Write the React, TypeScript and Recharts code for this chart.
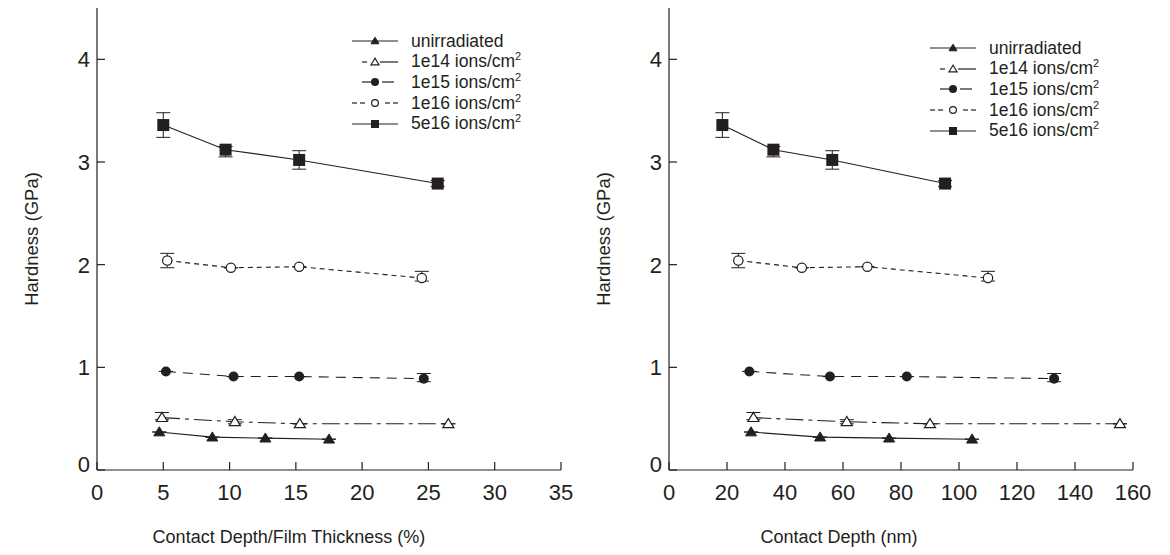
import React from "react";
import { LineChart, Line, XAxis, YAxis, ErrorBar, Legend } from "recharts";

const ink = "#231f20";
const font = "'Liberation Sans', Arial, Helvetica, sans-serif";

// hardness (GPa), same measurements in both panels
const unirrH = [0.37, 0.32, 0.31, 0.3];
const e14H = [0.51, 0.47, 0.45, 0.45];
const e15H = [0.96, 0.91, 0.91, 0.89];
const e16H = [2.04, 1.97, 1.98, 1.87];
const e5x16H = [3.36, 3.12, 3.02, 2.79];

// error bars, [below, above]
const unirrErr = [[0, 0], [0, 0], [0, 0], [0, 0]];
const e14Err = [[0.02, 0.05], [0.02, 0.02], [0, 0], [0, 0]];
const e15Err = [[0, 0], [0, 0], [0, 0], [0.03, 0.05]];
const e16Err = [[0.07, 0.07], [0, 0], [0, 0], [0.03, 0.065]];
const e5x16Err = [[0.12, 0.12], [0.07, 0.03], [0.09, 0.09], [0.03, 0.03]];

// contact depth / film thickness (%)
const unirrPct = [4.7, 8.7, 12.7, 17.5];
const e14Pct = [4.9, 10.4, 15.3, 26.5];
const e15Pct = [5.2, 10.3, 15.25, 24.65];
const e16Pct = [5.3, 10.1, 15.25, 24.5];
const e5x16Pct = [5.0, 9.7, 15.25, 25.7];

// contact depth (nm)
const unirrNm = [28.3, 52.1, 75.9, 104.5];
const e14Nm = [29.1, 61.3, 90, 155.5];
const e15Nm = [27.7, 55.5, 82, 132.8];
const e16Nm = [23.9, 45.8, 68.4, 110];
const e5x16Nm = [18.4, 36, 56.3, 95.2];

const pctTicks = [0, 5, 10, 15, 20, 25, 30, 35];
const nmTicks = [0, 20, 40, 60, 80, 100, 120, 140, 160];
const hTicks = [0, 1, 2, 3, 4];

type Kind = "tri" | "triOpen" | "dot" | "dotOpen" | "square";

const series = [
  { name: "unirradiated", sup: false, kind: "tri" as Kind, dash: undefined, legendSeg: [[0, 46]], h: unirrH, err: unirrErr, pct: unirrPct, nm: unirrNm },
  { name: "1e14 ions/cm", sup: true, kind: "triOpen" as Kind, dash: "18 5 4 5", legendSeg: [[10, 15], [28, 46]], h: e14H, err: e14Err, pct: e14Pct, nm: e14Nm },
  { name: "1e15 ions/cm", sup: true, kind: "dot" as Kind, dash: "10 7", legendSeg: [[10, 20], [30, 42]], h: e15H, err: e15Err, pct: e15Pct, nm: e15Nm },
  { name: "1e16 ions/cm", sup: true, kind: "dotOpen" as Kind, dash: "5 4", legendSeg: [[0, 5], [8, 13], [33, 38], [41, 46]], h: e16H, err: e16Err, pct: e16Pct, nm: e16Nm },
  { name: "5e16 ions/cm", sup: true, kind: "square" as Kind, dash: undefined, legendSeg: [[0, 46]], h: e5x16H, err: e5x16Err, pct: e5x16Pct, nm: e5x16Nm },
];

const Mark = ({ kind, cx, cy, s }: { kind: Kind; cx: number; cy: number; s: number }) => {
  if (cx == null || cy == null) return null;
  if (kind === "tri" || kind === "triOpen") {
    const pts = `${cx},${cy - s * 0.95} ${cx - s},${cy + s * 0.7} ${cx + s},${cy + s * 0.7}`;
    return kind === "tri" ? (
      <polygon points={pts} fill={ink} stroke={ink} strokeWidth={1} />
    ) : (
      <polygon points={pts} fill="#fff" stroke={ink} strokeWidth={1.2} />
    );
  }
  if (kind === "dot") return <circle cx={cx} cy={cy} r={s} fill={ink} />;
  if (kind === "dotOpen") return <circle cx={cx} cy={cy} r={s * 0.85} fill="#fff" stroke={ink} strokeWidth={1.2} />;
  return <rect x={cx - s} y={cy - s} width={s * 2} height={s * 2} fill={ink} />;
};

const BottomTick = (props: any) => {
  const { x, y, payload } = props;
  return (
    <g>
      <line x1={x} x2={x} y1={y} y2={y - 8} stroke={ink} strokeWidth={1.2} />
      <text x={x} y={y + 30} textAnchor="middle" fontSize={22} fontFamily={font} fill={ink}>
        {payload.value}
      </text>
    </g>
  );
};

const TopTick = (props: any) => {
  const { x, y } = props;
  return <line x1={x} x2={x} y1={y} y2={y + 8} stroke={ink} strokeWidth={1.2} />;
};

const LeftTick = (props: any) => {
  const { x, y, payload } = props;
  const shift = payload.value === 0 ? -6 : 0;
  return (
    <g>
      <line x1={x} x2={x + 8} y1={y} y2={y} stroke={ink} strokeWidth={1.2} />
      <text x={x - 7} y={y + 8 + shift} textAnchor="end" fontSize={22} fontFamily={font} fill={ink}>
        {payload.value}
      </text>
    </g>
  );
};

const RightTick = (props: any) => {
  const { x, y } = props;
  return <line x1={x} x2={x - 8} y1={y} y2={y} stroke={ink} strokeWidth={1.2} />;
};

const LegendBox = () => (
  <div style={{ fontFamily: font, fontSize: 17.5, color: ink }}>
    {series.map((s) => (
      <div key={s.name} style={{ display: "flex", alignItems: "center", height: 20.6 }}>
        <svg width={46} height={14} style={{ overflow: "visible" }}>
          {s.legendSeg.map(([a, b], i) => (
            <line key={i} x1={a} x2={b} y1={7} y2={7} stroke={ink} strokeWidth={1.2} />
          ))}
          <Mark kind={s.kind} cx={23} cy={7} s={4} />
        </svg>
        <span style={{ marginLeft: 13, whiteSpace: "nowrap" }}>
          {s.name}
          {s.sup && <sup style={{ fontSize: 11, lineHeight: 0 }}>2</sup>}
        </span>
      </div>
    ))}
  </div>
);

interface PanelProps {
  left: number;
  xKey: "pct" | "nm";
  xTicks: number[];
  xLabel: string;
  xLabelShift: number;
  legendTop: number;
  legendLeft: number;
}

const Panel = ({ left, xKey, xTicks, xLabel, xLabelShift, legendTop, legendLeft }: PanelProps) => {
  const xMax = xTicks[xTicks.length - 1];
  return (
    <div style={{ position: "absolute", left, top: 0 }}>
      <LineChart width={586} height={555} margin={{ top: 8, right: 25, left: 0, bottom: 0 }}>
        <XAxis
          xAxisId="b"
          type="number"
          dataKey="x"
          domain={[0, xMax]}
          ticks={xTicks}
          tickSize={0}
          tickMargin={0}
          tickLine={false}
          tick={<BottomTick />}
          axisLine={{ stroke: ink, strokeWidth: 1.2 }}
          height={85}
          label={{ value: xLabel, position: "insideBottom", offset: 12, dx: xLabelShift, fontSize: 18, fontFamily: font, fill: ink }}
        />
        <XAxis
          xAxisId="t"
          orientation="top"
          type="number"
          dataKey="x"
          domain={[0, xMax]}
          ticks={xTicks}
          tickSize={0}
          tickMargin={0}
          tickLine={false}
          tick={<TopTick />}
          axisLine={{ stroke: ink, strokeWidth: 1.2 }}
          height={0}
        />
        <YAxis
          yAxisId="l"
          type="number"
          domain={[0, 4.5]}
          allowDataOverflow
          ticks={hTicks}
          tickSize={0}
          tickMargin={0}
          tickLine={false}
          tick={<LeftTick />}
          axisLine={{ stroke: ink, strokeWidth: 1.2 }}
          width={97}
          label={{ value: "Hardness (GPa)", angle: -90, position: "insideLeft", offset: 31, fontSize: 18.5, fontFamily: font, fill: ink, style: { textAnchor: "middle" } }}
        />
        <YAxis
          yAxisId="r"
          orientation="right"
          type="number"
          domain={[0, 4.5]}
          allowDataOverflow
          ticks={hTicks}
          tickSize={0}
          tickMargin={0}
          tickLine={false}
          tick={<RightTick />}
          axisLine={{ stroke: ink, strokeWidth: 1.2 }}
          width={0}
        />
        <Legend
          layout="vertical"
          align="center"
          verticalAlign="middle"
          content={() => <LegendBox />}
          wrapperStyle={{ top: legendTop, left: legendLeft, width: 220 }}
        />
        {series.map((s) => (
          <Line
            key={s.name}
            xAxisId="b"
            yAxisId="l"
            name={s.name}
            data={s[xKey].map((x, i) => ({ x, y: s.h[i], err: s.err[i] }))}
            dataKey="y"
            type="linear"
            stroke={ink}
            strokeWidth={1.1}
            strokeDasharray={s.dash}
            dot={(p: any) => <Mark key={`${s.name}-${p.index}`} kind={s.kind} cx={p.cx} cy={p.cy} s={s.kind === "square" ? 6 : s.kind === "dot" ? 5 : 5.5} />}
            activeDot={false}
            isAnimationActive={false}
          >
            <ErrorBar dataKey="err" direction="y" width={7} stroke={ink} strokeWidth={1} />
          </Line>
        ))}
      </LineChart>
    </div>
  );
};

const App = () => (
  <div style={{ position: "absolute", left: 0, top: 0, width: 1170, height: 555, background: "#fff" }}>
    <Panel left={0} xKey="pct" xTicks={pctTicks} xLabel="Contact Depth/Film Thickness (%)" xLabelShift={-40} legendTop={31} legendLeft={352} />
    <Panel left={572} xKey="nm" xTicks={nmTicks} xLabel="Contact Depth (nm)" xLabelShift={-62} legendTop={38} legendLeft={358} />
  </div>
);

export default App;
